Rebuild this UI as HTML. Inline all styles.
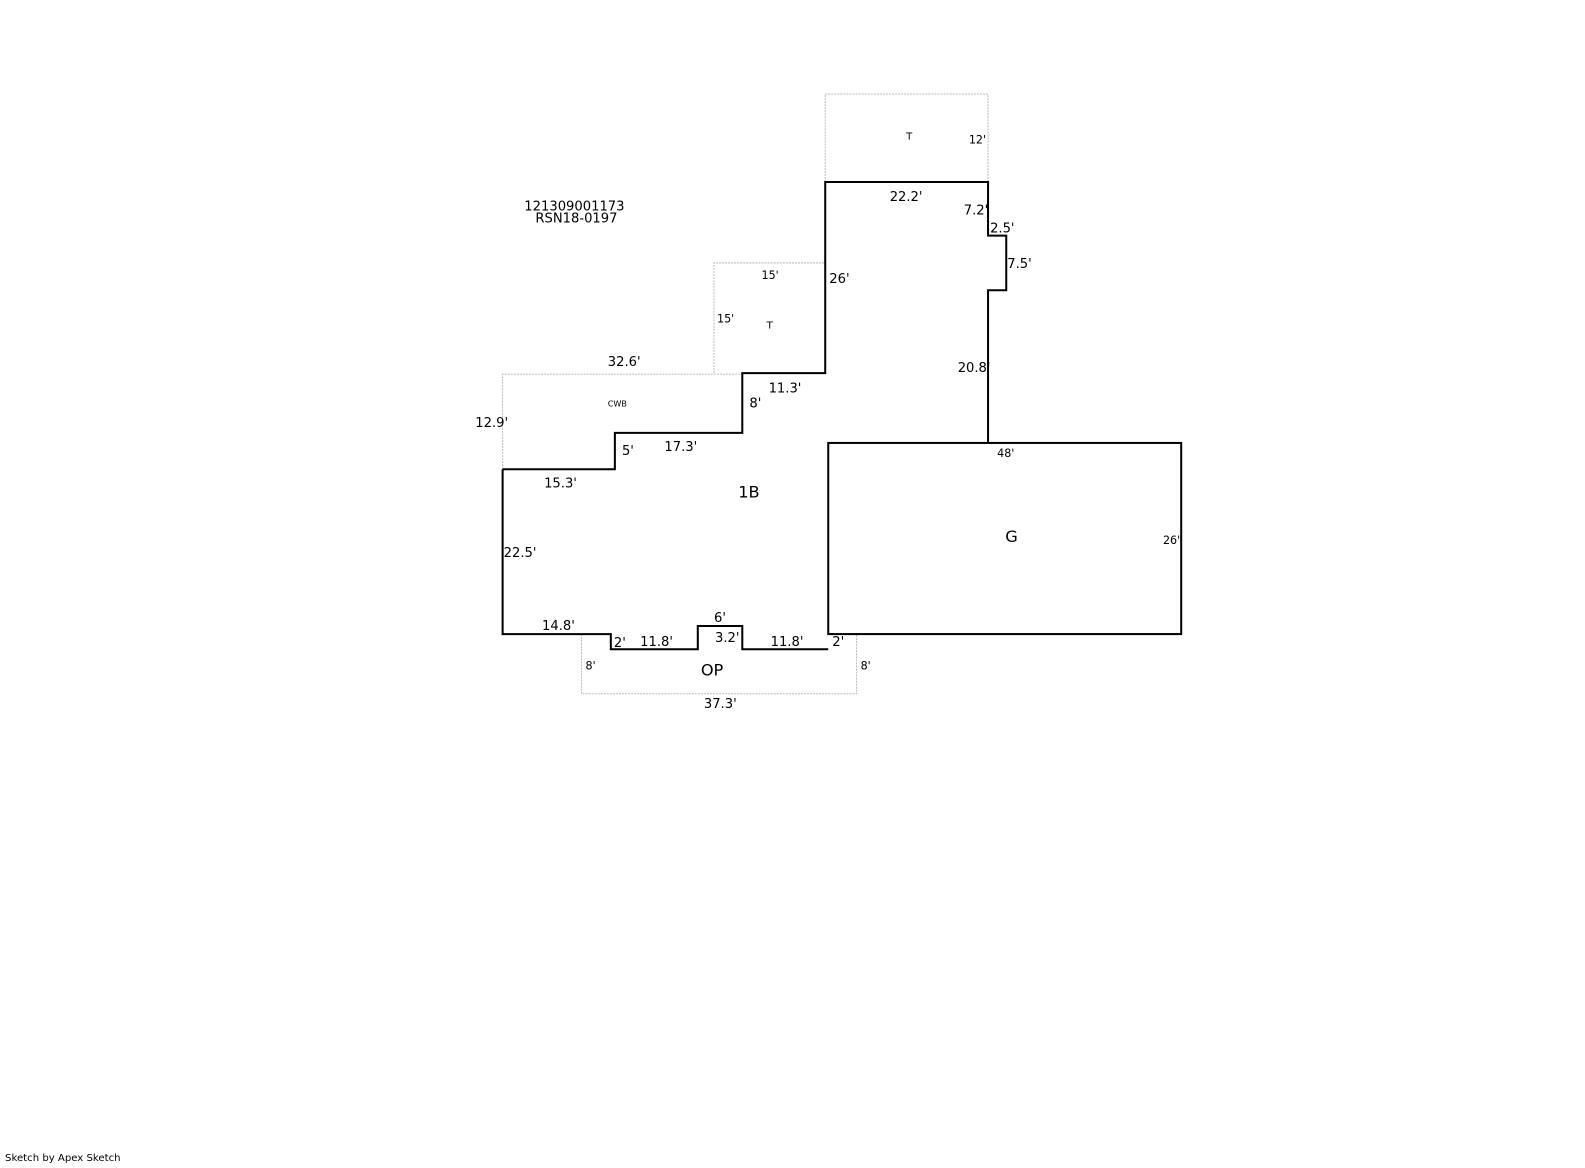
<!DOCTYPE html>
<html><head><style>
body{margin:0;background:#fff;}
svg text{font-family:"DejaVu Sans","Liberation Sans",sans-serif;fill:#000;}
</style></head><body>
<svg width="1585" height="1163" xmlns="http://www.w3.org/2000/svg">
<g transform="scale(1.0113)">
<g fill="none" stroke="#bbb" stroke-width="1" stroke-dasharray="2,1">
<polyline points="816,180 816,93 977,93 977,180"/>
<polyline points="706,369 706,260 816,260"/>
<polyline points="497,464 497,370 734,370"/>
<polyline points="575,627 575,686 847,686 847,627"/>
</g>
<g fill="none" stroke="#000" stroke-width="2">
<polyline points="497,464 608,464 608,428 734,428 734,369 816,369 816,180 977,180 977,233 995,233 995,287 977,287 977,438"/>
<polyline points="497,464 497,627 604,627 604,642 690,642 690,619 734,619 734,642 819,642"/>
<rect x="819" y="438" width="349" height="189"/>
</g>
<g font-size="13">
<text x="568" y="208" text-anchor="middle">121309001173</text>
<text x="570" y="220" text-anchor="middle">RSN18-0197</text>
<text x="896" y="199" text-anchor="middle">22.2'</text>
<text x="953" y="212">7.2'</text>
<text x="979" y="230">2.5'</text>
<text x="996" y="265">7.5'</text>
<text x="820" y="280">26'</text>
<text x="947" y="368">20.8'</text>
<text x="601" y="362">32.6'</text>
<text x="760" y="388">11.3'</text>
<text x="741" y="403">8'</text>
<text x="470" y="422">12.9'</text>
<text x="615" y="450">5'</text>
<text x="657" y="446">17.3'</text>
<text x="538" y="482">15.3'</text>
<text x="498" y="551">22.5'</text>
<text x="536" y="623">14.8'</text>
<text x="706" y="615">6'</text>
<text x="607" y="640">2'</text>
<text x="633" y="639">11.8'</text>
<text x="707" y="635">3.2'</text>
<text x="762" y="639">11.8'</text>
<text x="823" y="639">2'</text>
<text x="696" y="700">37.3'</text>
</g>
<g font-size="11">
<text x="958" y="142">12'</text>
<text x="753" y="276">15'</text>
<text x="709" y="319">15'</text>
<text x="986" y="452">48'</text>
<text x="1150" y="538">26'</text>
<text x="579" y="662">8'</text>
<text x="851" y="662">8'</text>
<text x="896" y="138" font-size="10">T</text>
<text x="758" y="325" font-size="10">T</text>
<text x="601" y="402" font-size="8" fill="#444">CWB</text>
</g>
<g font-size="16">
<text x="730" y="492">1B</text>
<text x="994" y="536">G</text>
<text x="693" y="668">OP</text>
</g>
<text x="5" y="1148" font-size="10">Sketch by Apex Sketch</text>
</g>
</svg>
</body></html>
